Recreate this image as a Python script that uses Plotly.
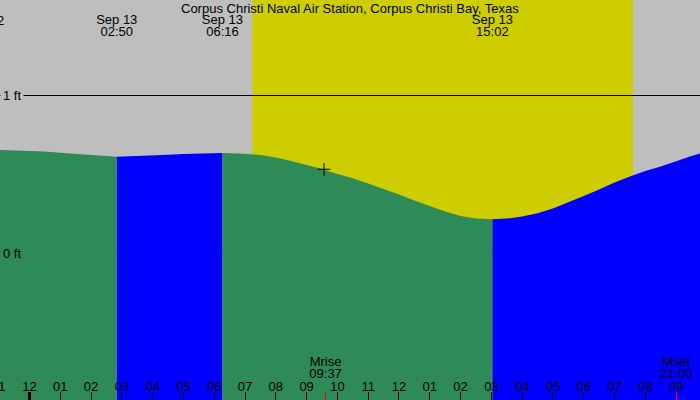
import plotly.graph_objects as go
import pandas as pd

TITLE = "Corpus Christi Naval Air Station, Corpus Christi Bay, Texas"

TIDE_TIMES = [
    "2023-09-12 23:00", "2023-09-12 23:30", "2023-09-13 00:00", "2023-09-13 00:30",
    "2023-09-13 01:00", "2023-09-13 01:30", "2023-09-13 02:00", "2023-09-13 02:30",
    "2023-09-13 02:50", "2023-09-13 03:00", "2023-09-13 03:30", "2023-09-13 04:00",
    "2023-09-13 04:30", "2023-09-13 05:00", "2023-09-13 05:30", "2023-09-13 06:00",
    "2023-09-13 06:16", "2023-09-13 06:30", "2023-09-13 07:00", "2023-09-13 07:30",
    "2023-09-13 08:00", "2023-09-13 08:30", "2023-09-13 09:00", "2023-09-13 09:30",
    "2023-09-13 10:00", "2023-09-13 10:30", "2023-09-13 11:00", "2023-09-13 11:30",
    "2023-09-13 12:00", "2023-09-13 12:30", "2023-09-13 13:00", "2023-09-13 13:30",
    "2023-09-13 14:00", "2023-09-13 14:30", "2023-09-13 15:00", "2023-09-13 15:02",
    "2023-09-13 15:30", "2023-09-13 16:00", "2023-09-13 16:30", "2023-09-13 17:00",
    "2023-09-13 17:30", "2023-09-13 18:00", "2023-09-13 18:30", "2023-09-13 19:00",
    "2023-09-13 19:30", "2023-09-13 20:00", "2023-09-13 20:30", "2023-09-13 21:00",
    "2023-09-13 21:30", "2023-09-13 22:00",
]
TIDE_FT = [
    0.652, 0.649, 0.646, 0.642,
    0.635, 0.628, 0.620, 0.613,
    0.609, 0.610, 0.613, 0.617,
    0.622, 0.627, 0.630, 0.632,
    0.633, 0.632, 0.628, 0.620,
    0.604, 0.582, 0.555, 0.532,
    0.500, 0.473, 0.440, 0.407,
    0.370, 0.332, 0.297, 0.262,
    0.234, 0.219, 0.213, 0.213,
    0.218, 0.231, 0.251, 0.282,
    0.320, 0.361, 0.402, 0.446,
    0.484, 0.519, 0.547, 0.582,
    0.614, 0.642,
]

EXTREME_TIMES = ["2023-09-12 22:30", "2023-09-13 02:50", "2023-09-13 06:16", "2023-09-13 15:02"]
EXTREME_DATES = ["Sep 12", "Sep 13", "Sep 13", "Sep 13"]
EXTREME_CLOCKS = ["22:30", "02:50", "06:16", "15:02"]

SUNRISE = "2023-09-13 07:14"
SUNSET = "2023-09-13 19:36"

MOON_TIMES = ["2023-09-13 09:37", "2023-09-13 21:00"]
MOON_NAMES = ["Mrise", "Mset"]
MOON_CLOCKS = ["09:37", "21:00"]

MIDNIGHT = ["2023-09-13 00:00"]

# hour label partly visible at the left edge (its tick lies just outside the view)
EDGE_HOUR_TIMES = ["2023-09-12 23:00"]
EDGE_HOUR_LABELS = ["11"]

NOW_TIME = ["2023-09-13 09:34"]
NOW_FT = [0.530]

Y_TICKS = [0, 1]
Y_TICK_LABELS = ["0 ft", "1 ft"]

# ---- styling / layout constants ----
X_RANGE = ["2023-09-12 23:02:30", "2023-09-13 21:46:35"]
Y_TOP = 1.6013
Y_BOTTOM = -0.9304
FILL_FLOOR = -3.0
GRAY = "#BEBEBE"
YELLOW = "#CDCD00"
GREEN = "#2E8B57"
BLUE = "#0000FF"
FONT = "Liberation Sans"
FS = 13
W, H = 700, 400


def row_y(px):
    return Y_TOP - px * (Y_TOP - Y_BOTTOM) / H


x_start = pd.Timestamp(X_RANGE[0])
x_span = pd.Timestamp(X_RANGE[1]) - x_start
edge_anchor = x_start + pd.Timedelta(seconds=1)


def edge_shift(t):
    # pixel offset of a time left of the view, measured from the edge anchor
    return (pd.Timestamp(t) - edge_anchor) / x_span * W


fig = go.Figure()

# tide fill segments split at extremes
times = pd.to_datetime(TIDE_TIMES)
breaks = [pd.Timestamp(t) for t in EXTREME_TIMES[1:]]
edges = [times[0]] + breaks + [times[-1]]
for a, b in zip(edges[:-1], edges[1:]):
    idx = [i for i, t in enumerate(times) if a <= t <= b]
    xs = [TIDE_TIMES[i] for i in idx]
    ys = [TIDE_FT[i] for i in idx]
    color = BLUE if ys[-1] > ys[0] else GREEN
    fig.add_trace(go.Scatter(
        x=xs + [xs[-1], xs[0]], y=ys + [FILL_FLOOR, FILL_FLOOR],
        fill="toself", fillcolor=color, mode="lines",
        line=dict(width=0, color=color), hoverinfo="skip", showlegend=False,
    ))

# current-time marker
fig.add_trace(go.Scatter(
    x=NOW_TIME, y=NOW_FT, mode="markers",
    marker=dict(symbol="cross-thin", size=9, line=dict(width=1, color="black")),
    hoverinfo="skip", showlegend=False,
))

txt = dict(family=FONT, size=FS, color="black")

# extreme labels inside the view
vis = [i for i, t in enumerate(EXTREME_TIMES) if pd.Timestamp(t) >= x_start]
offv = [i for i, t in enumerate(EXTREME_TIMES) if pd.Timestamp(t) < x_start]
fig.add_trace(go.Scatter(
    x=[EXTREME_TIMES[i] for i in vis], y=[row_y(21.0)] * len(vis),
    text=[EXTREME_DATES[i] for i in vis],
    mode="text", textposition="middle center", cliponaxis=False,
    textfont=txt, hoverinfo="skip", showlegend=False,
))
fig.add_trace(go.Scatter(
    x=[EXTREME_TIMES[i] for i in vis], y=[row_y(32.9)] * len(vis),
    text=[EXTREME_CLOCKS[i] for i in vis],
    mode="text", textposition="middle center", cliponaxis=False,
    textfont=txt, hoverinfo="skip", showlegend=False,
))
# extreme labels just left of the view (only partly visible)
for i in offv:
    for label, row in ((EXTREME_DATES[i], 20.1), (EXTREME_CLOCKS[i], 32.0)):
        fig.add_annotation(text=label, xref="x", yref="y", x=edge_anchor, y=row_y(row),
                           xshift=edge_shift(EXTREME_TIMES[i]), showarrow=False,
                           font=txt, borderpad=0)
for t, label in zip(EDGE_HOUR_TIMES, EDGE_HOUR_LABELS):
    fig.add_annotation(text=label, xref="x", yref="y", x=edge_anchor, y=row_y(386.6),
                       xshift=edge_shift(t), showarrow=False, font=txt, borderpad=0)

# moon labels on the moon tick axis
fig.add_trace(go.Scatter(
    x=MOON_TIMES, y=[row_y(363.2)] * 2, text=MOON_NAMES, xaxis="x2",
    mode="text", textposition="middle center", cliponaxis=False,
    textfont=txt, hoverinfo="skip", showlegend=False,
))
fig.add_trace(go.Scatter(
    x=MOON_TIMES, y=[row_y(375.1)] * 2, text=MOON_CLOCKS, xaxis="x2",
    mode="text", textposition="middle center", cliponaxis=False,
    textfont=txt, hoverinfo="skip", showlegend=False,
))
# anchor trace for midnight tick axis
fig.add_trace(go.Scatter(x=MIDNIGHT, y=[0], xaxis="x3", mode="none",
                         hoverinfo="skip", showlegend=False))

# daylight band
fig.add_shape(type="rect", xref="x", yref="paper", x0=SUNRISE, x1=SUNSET, y0=0, y1=1,
              fillcolor=YELLOW, line=dict(width=0), layer="below")

# title and level labels
fig.add_annotation(text=TITLE, xref="paper", yref="y", x=0.5, y=row_y(8.3),
                   showarrow=False, font=txt)
fig.add_annotation(text=Y_TICK_LABELS[1], xref="paper", yref="y", x=0, y=Y_TICKS[1],
                   xanchor="left", xshift=0, showarrow=False, bgcolor=GRAY, borderpad=2,
                   font=txt)
fig.add_annotation(text=Y_TICK_LABELS[0], xref="paper", yref="y", x=0, y=Y_TICKS[0],
                   xanchor="left", xshift=0, showarrow=False, borderpad=2,
                   font=txt)

common_x = dict(type="date", range=X_RANGE, showgrid=False, zeroline=False, showline=False,
                fixedrange=True)

fig.update_layout(
    width=W, height=H,
    margin=dict(l=0, r=0, t=0, b=0),
    paper_bgcolor=GRAY, plot_bgcolor=GRAY,
    showlegend=False,
    xaxis=dict(**common_x, ticks="inside", ticklen=8, tickwidth=1, tickcolor="black",
               dtick=3600000, tick0="2023-09-13 00:00", tickformat="%I",
               ticklabelposition="inside", ticklabelstandoff=-2,
               tickfont=txt),
    xaxis2=dict(**common_x, overlaying="x", matches="x", anchor="y", side="bottom",
                ticks="inside", ticklen=8, tickwidth=1, tickcolor="#FF0000",
                tickvals=MOON_TIMES, showticklabels=False),
    xaxis3=dict(**common_x, overlaying="x", matches="x", anchor="y", side="bottom",
                ticks="inside", ticklen=8, tickwidth=3, tickcolor="black",
                tickvals=MIDNIGHT, showticklabels=False),
    yaxis=dict(range=[Y_BOTTOM, Y_TOP], tickvals=Y_TICKS, showticklabels=False,
               showgrid=True, gridcolor="black", gridwidth=1, zeroline=False,
               showline=False, ticks="", fixedrange=True),
)

fig.write_html("out.html", config={"displayModeBar": False},
               post_script="document.body.style.margin='0';document.body.style.overflow='hidden';")
